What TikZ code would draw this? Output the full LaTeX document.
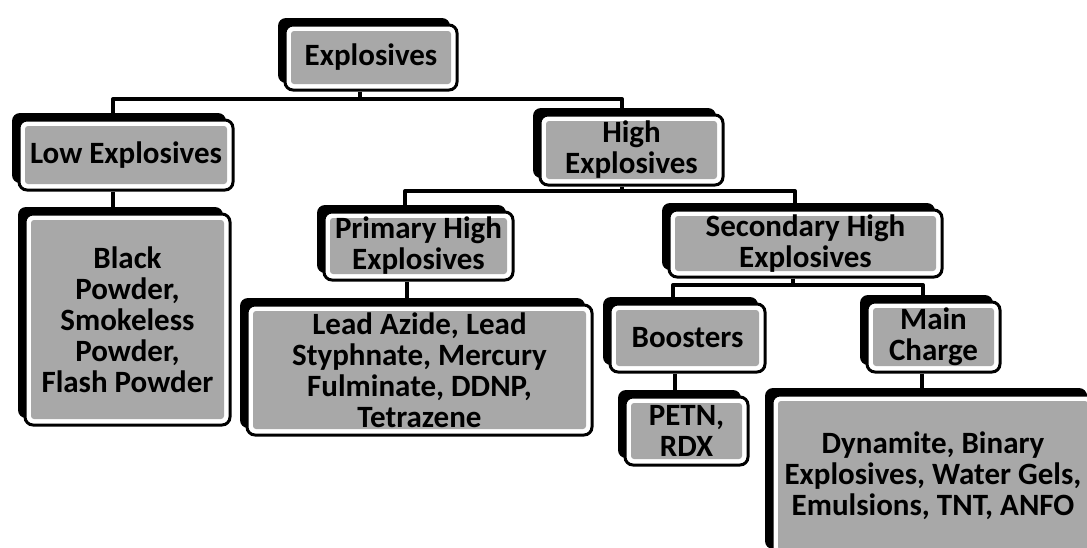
\documentclass[tikz,border=0pt]{standalone}
\usepackage{fontspec}
\setmainfont{Carlito}
\usetikzlibrary{shadows}
\definecolor{boxgray}{gray}{0.66}
\tikzset{
  box/.style={draw=black, line width=3pt, rounded corners=8pt, fill=white,
    inner sep=0pt, align=center,
    font=\fontsize{31}{31}\selectfont\bfseries,
    general shadow={fill=black, shadow xshift=-7pt, shadow yshift=7pt},
    path picture={\fill[boxgray, rounded corners=3pt]
      ([shift={(6pt,6pt)}]path picture bounding box.south west) rectangle
      ([shift={(-6pt,-6pt)}]path picture bounding box.north east);}},
  conn/.style={line width=4pt, line join=round},
}
\begin{document}
\begin{tikzpicture}[x=1pt,y=1pt]
\useasboundingbox (0,0) rectangle (1087,-547);
\clip (0,0) rectangle (1087,-547);
\fill[white] (0,0) rectangle (1087,-547);

\node[box, minimum width=172pt, minimum height=65pt] (root) at (371,-57.5) {Explosives};
\node[box, minimum width=214pt, minimum height=70pt] (low) at (126,-155) {Low Explosives};
\node[box, minimum width=205pt, minimum height=211pt] (bp) at (127.5,-319.5) {Black\\Powder,\\Smokeless\\Powder,\\Flash Powder};
\node[box, minimum width=183pt, minimum height=70pt] (high) at (631.5,-150) {High\\Explosives};
\node[box, minimum width=189pt, minimum height=68pt] (prim) at (418.5,-246) {Primary High\\Explosives};
\node[box, minimum width=345pt, minimum height=130pt] (lead) at (419.5,-370) {Lead Azide, Lead\\Styphnate, Mercury\\Fulminate, DDNP,\\Tetrazene};
\node[box, minimum width=273pt, minimum height=67pt] (sec) at (805.5,-243.5) {Secondary High\\Explosives};
\node[box, minimum width=155pt, minimum height=68pt] (boost) at (687.5,-338) {Boosters};
\node[box, minimum width=123pt, minimum height=68pt] (petn) at (686.5,-431) {PETN,\\RDX};
\node[box, minimum width=133pt, minimum height=70pt] (main) at (933.5,-337) {Main\\Charge};
\node[box, minimum width=322pt, minimum height=161pt] (dyn) at (933,-475.5) {Dynamite, Binary\\Explosives, Water Gels,\\Emulsions, TNT, ANFO};

\coordinate (j0) at (360,-99);
\coordinate (j1) at (622,-191);
\coordinate (j2) at (793,-285);

\draw[conn] ([xshift=-11pt]root.south) -- (j0);
\draw[conn] ([xshift=-13pt]low.north) |- (j0) -| ([xshift=-9.5pt]high.north);
\draw[conn] ([xshift=-9.5pt]high.south) -- (j1);
\draw[conn] ([xshift=-13.5pt]prim.north) |- (j1) -| ([xshift=-10.5pt]sec.north);
\draw[conn] ([xshift=-12.5pt]sec.south) -- (j2);
\draw[conn] ([xshift=-14.5pt]boost.north) |- (j2) -| ([xshift=-10.5pt]main.north);
\draw[conn] ([xshift=-13pt]low.south) -- ([xshift=-13pt]low.south |- bp.north);
\draw[conn] ([xshift=-11.5pt]prim.south) -- ([xshift=-11.5pt]prim.south |- lead.north);
\draw[conn] ([xshift=-12.5pt]boost.south) -- ([xshift=-12.5pt]boost.south |- petn.north);
\draw[conn] ([xshift=-11.5pt]main.south) -- ([xshift=-11.5pt]main.south |- dyn.north);
\end{tikzpicture}
\end{document}
